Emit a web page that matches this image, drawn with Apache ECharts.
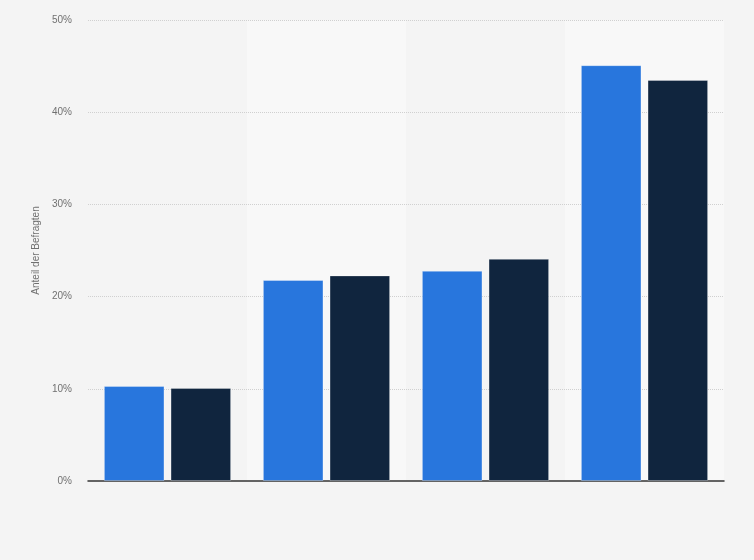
<!DOCTYPE html>
<html>
<head>
<meta charset="utf-8">
<script src="https://cdn.jsdelivr.net/npm/echarts@6/dist/echarts.min.js"></script>
<style>
html,body{margin:0;padding:0;background:#f4f4f4;}
#c{width:754px;height:560px;}
</style>
</head>
<body>
<div id="c"></div>
<script>
const categories = ['Gruppe 1', 'Gruppe 2', 'Gruppe 3', 'Gruppe 4'];
const seriesNames = ['Serie A', 'Serie B'];
const seriesA = [10.3, 21.8, 22.8, 45.1];
const seriesB = [10.1, 22.3, 24.1, 43.5];
const yTicks = [0, 10, 20, 30, 40, 50];

const chart = echarts.init(document.getElementById('c'));
chart.setOption({
  backgroundColor: '#f4f4f4',
  animation: false,
  grid: { left: 88, right: 30, top: 20, bottom: 79 },
  xAxis: {
    type: 'category',
    data: categories,
    z: 2,
    axisLine: { lineStyle: { color: '#333', width: 1.5 } },
    axisTick: { show: false },
    axisLabel: { show: false },
    splitArea: { show: true, areaStyle: { color: ['rgba(0,0,0,0)', '#f8f8f8'] } }
  },
  yAxis: {
    type: 'value',
    z: 3,
    min: yTicks[0],
    max: yTicks[yTicks.length - 1],
    interval: 10,
    name: 'Anteil der Befragten',
    nameLocation: 'middle',
    nameGap: 43,
    nameTextStyle: { color: '#707070', fontSize: 10, fontFamily: 'Arial, Liberation Sans, sans-serif' },
    axisLine: { show: false },
    axisTick: { show: false },
    axisLabel: { formatter: '{value}%', color: '#707070', fontSize: 10, margin: 16, fontFamily: 'Arial, Liberation Sans, sans-serif' },
    splitLine: { showMinLine: false, lineStyle: { color: '#d0d0d0', type: 'dotted', width: 1 } }
  },
  series: [
    {
      name: seriesNames[0], type: 'bar', data: seriesA, z: 4,
      barGap: '10%', barCategoryGap: '20%',
      itemStyle: { color: '#2876dd', borderColor: 'rgba(255,255,255,0.3)', borderWidth: 1 }
    },
    {
      name: seriesNames[1], type: 'bar', data: seriesB, z: 4,
      itemStyle: { color: '#10253e', borderColor: 'rgba(255,255,255,0.3)', borderWidth: 1 }
    }
  ]
});
</script>
</body>
</html>
